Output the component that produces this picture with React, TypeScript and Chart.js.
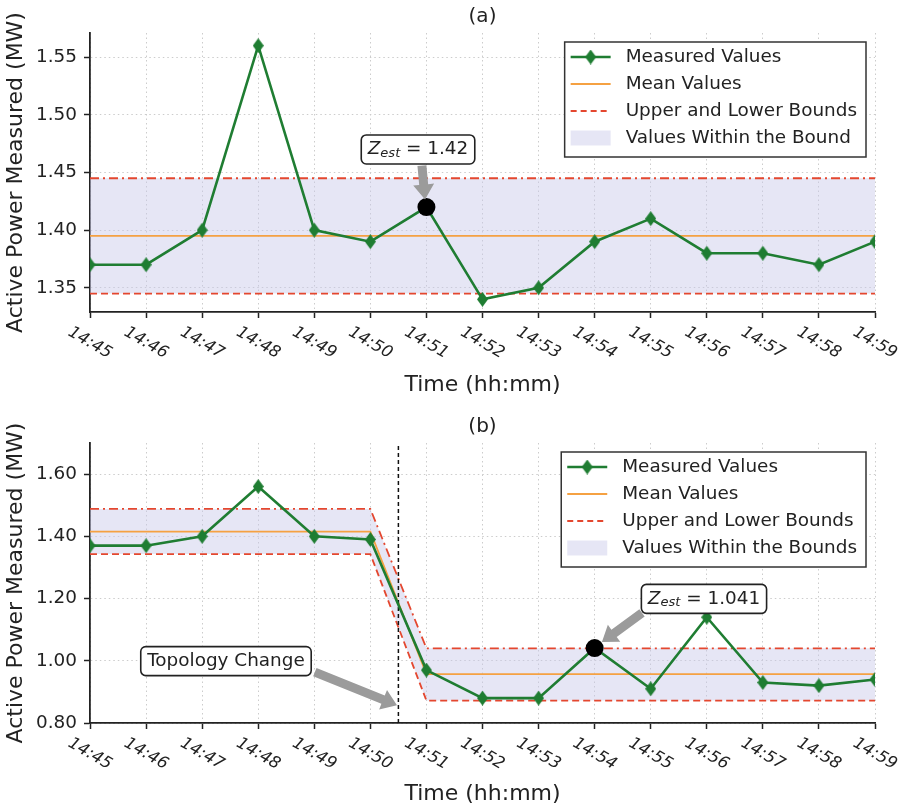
import React, { useEffect, useRef } from "react";
import { Chart, registerables } from "chart.js";

Chart.register(...registerables);

// ---------- data ----------
const timeLabels = ["14:45", "14:46", "14:47", "14:48", "14:49", "14:50", "14:51", "14:52", "14:53", "14:54", "14:55", "14:56", "14:57", "14:58", "14:59"];

// panel (a)
const measuredA = [1.37, 1.37, 1.40, 1.56, 1.40, 1.39, 1.42, 1.34, 1.35, 1.39, 1.41, 1.38, 1.38, 1.37, 1.39];
const meanA = [1.395, 1.395, 1.395, 1.395, 1.395, 1.395, 1.395, 1.395, 1.395, 1.395, 1.395, 1.395, 1.395, 1.395, 1.395];
const upperA = [1.445, 1.445, 1.445, 1.445, 1.445, 1.445, 1.445, 1.445, 1.445, 1.445, 1.445, 1.445, 1.445, 1.445, 1.445];
const lowerA = [1.345, 1.345, 1.345, 1.345, 1.345, 1.345, 1.345, 1.345, 1.345, 1.345, 1.345, 1.345, 1.345, 1.345, 1.345];
const estimateA = [{ x: 6, y: 1.42 }];
const yTicksA = [1.35, 1.40, 1.45, 1.50, 1.55];
const yLimitsA = [1.329, 1.571];
const legendA = ["Measured Values", "Mean Values", "Upper and Lower Bounds", "Values Within the Bound"];

// panel (b)
const measuredB = [1.37, 1.37, 1.40, 1.56, 1.40, 1.39, 0.97, 0.88, 0.88, 1.041, 0.91, 1.14, 0.93, 0.92, 0.94];
const meanB = [1.415, 1.415, 1.415, 1.415, 1.415, 1.415, 0.957, 0.957, 0.957, 0.957, 0.957, 0.957, 0.957, 0.957, 0.957];
const upperB = [1.488, 1.488, 1.488, 1.488, 1.488, 1.488, 1.04, 1.04, 1.04, 1.04, 1.04, 1.04, 1.04, 1.04, 1.04];
const lowerB = [1.343, 1.343, 1.343, 1.343, 1.343, 1.343, 0.872, 0.872, 0.872, 0.872, 0.872, 0.872, 0.872, 0.872, 0.872];
const estimateB = [{ x: 9, y: 1.041 }];
const topologyChangeX = [5.5];
const yTicksB = [0.8, 1.0, 1.2, 1.4, 1.6];
const yLimitsB = [0.8, 1.7];
const legendB = ["Measured Values", "Mean Values", "Upper and Lower Bounds", "Values Within the Bounds"];

// annotations (data coordinates)
const annotationsA = [
  { kind: "zest", text: "1.42", center: [5.85, 1.470], tail: [5.92, 1.456], tip: [5.975, 1.4266] },
];
const annotationsB = [
  { kind: "zest", text: "1.041", center: [10.95, 1.199], tail: [9.845, 1.154], tip: [9.13, 1.06] },
  { kind: "text", text: "Topology Change", center: [2.425, 0.999], tail: [4.01, 0.9635], tip: [5.475, 0.857] },
];

// ---------- styles ----------
const FAMILY = "'DejaVu Sans', sans-serif";
const GREEN = "#1f7d32";
const ORANGE = "#f5a142";
const RED = "#e4472f";
const FILL = "rgba(200,200,232,0.45)";
const GRID = "#cccccc";
const INK = "#222222";
const ARROW = "#9b9b9b";

function diamondCanvas(w: number, h: number, color: string) {
  const c = document.createElement("canvas");
  c.width = w;
  c.height = h;
  const g = c.getContext("2d")!;
  g.fillStyle = color;
  g.beginPath();
  g.moveTo(w / 2, 0);
  g.lineTo(w, h / 2);
  g.lineTo(w / 2, h);
  g.lineTo(0, h / 2);
  g.closePath();
  g.fill();
  return c;
}

function roundRect(ctx: CanvasRenderingContext2D, x: number, y: number, w: number, h: number, r: number) {
  ctx.beginPath();
  ctx.moveTo(x + r, y);
  ctx.lineTo(x + w - r, y);
  ctx.arcTo(x + w, y, x + w, y + r, r);
  ctx.lineTo(x + w, y + h - r);
  ctx.arcTo(x + w, y + h, x + w - r, y + h, r);
  ctx.lineTo(x + r, y + h);
  ctx.arcTo(x, y + h, x, y + h - r, r);
  ctx.lineTo(x, y + r);
  ctx.arcTo(x, y, x + r, y, r);
  ctx.closePath();
}

function drawArrow(ctx: CanvasRenderingContext2D, x1: number, y1: number, x2: number, y2: number) {
  const dx = x2 - x1, dy = y2 - y1;
  const L = Math.hypot(dx, dy);
  const ux = dx / L, uy = dy / L;
  const nx = -uy, ny = ux;
  const sw = 4.5, hw = 10.5, hl = Math.min(15, L * 0.6);
  const bx = x2 - ux * hl, by = y2 - uy * hl;
  ctx.beginPath();
  ctx.moveTo(x1 + nx * sw, y1 + ny * sw);
  ctx.lineTo(bx + nx * sw, by + ny * sw);
  ctx.lineTo(bx + nx * hw, by + ny * hw);
  ctx.lineTo(x2, y2);
  ctx.lineTo(bx - nx * hw, by - ny * hw);
  ctx.lineTo(bx - nx * sw, by - ny * sw);
  ctx.lineTo(x1 - nx * sw, y1 - ny * sw);
  ctx.closePath();
  ctx.fill();
}

function textRuns(kind: string, text: string) {
  if (kind === "zest") {
    return [
      { t: "Z", font: `italic 18.4px ${FAMILY}`, dy: 0 },
      { t: "est", font: `italic 13px ${FAMILY}`, dy: 4 },
      { t: " = " + text, font: `18.4px ${FAMILY}`, dy: 0 },
    ];
  }
  return [{ t: text, font: `18.4px ${FAMILY}`, dy: 0 }];
}

function drawAnnotation(ctx: CanvasRenderingContext2D, xs: any, ys: any, a: any) {
  const tx = xs.getPixelForValue(a.tail[0]), ty = ys.getPixelForValue(a.tail[1]);
  const px = xs.getPixelForValue(a.tip[0]), py = ys.getPixelForValue(a.tip[1]);
  ctx.fillStyle = ARROW;
  drawArrow(ctx, tx, ty, px, py);

  const runs = textRuns(a.kind, a.text);
  let total = 0;
  const widths = runs.map((r) => {
    ctx.font = r.font;
    const w = ctx.measureText(r.t).width;
    total += w;
    return w;
  });
  const cx = xs.getPixelForValue(a.center[0]);
  const cy = ys.getPixelForValue(a.center[1]);
  const padX = 6.5;
  const bw = total + padX * 2;
  const bh = 29;
  roundRect(ctx, cx - bw / 2, cy - bh / 2, bw, bh, 5);
  ctx.fillStyle = "#ffffff";
  ctx.fill();
  ctx.strokeStyle = INK;
  ctx.lineWidth = 1.6;
  ctx.stroke();
  ctx.fillStyle = INK;
  ctx.textBaseline = "middle";
  ctx.textAlign = "left";
  let x = cx - total / 2;
  runs.forEach((r, i) => {
    ctx.font = r.font;
    ctx.fillText(r.t, x, cy + r.dy);
    x += widths[i];
  });
}

function drawLegend(ctx: CanvasRenderingContext2D, area: any, labels: string[], diamond: HTMLCanvasElement) {
  ctx.save();
  ctx.font = `18.4px ${FAMILY}`;
  const maxW = Math.max(...labels.map((l) => ctx.measureText(l).width));
  const w = 6 + 40 + 15 + maxW + 9;
  const h = 115;
  const right = area.right - 9;
  const top = area.top + 9;
  const left = right - w;
  ctx.fillStyle = "#ffffff";
  ctx.fillRect(left, top, w, h);
  ctx.strokeStyle = "#333333";
  ctx.lineWidth = 1.5;
  ctx.strokeRect(left, top, w, h);
  const hx0 = left + 6, hx1 = left + 46;
  labels.forEach((label, i) => {
    const cy = top + 15 + i * 27;
    ctx.setLineDash([]);
    if (i === 0) {
      ctx.strokeStyle = GREEN;
      ctx.lineWidth = 2.6;
      ctx.beginPath();
      ctx.moveTo(hx0, cy);
      ctx.lineTo(hx1, cy);
      ctx.stroke();
      ctx.drawImage(diamond, (hx0 + hx1) / 2 - diamond.width / 2, cy - diamond.height / 2);
    } else if (i === 1) {
      ctx.strokeStyle = ORANGE;
      ctx.lineWidth = 1.8;
      ctx.beginPath();
      ctx.moveTo(hx0, cy);
      ctx.lineTo(hx1, cy);
      ctx.stroke();
    } else if (i === 2) {
      ctx.strokeStyle = RED;
      ctx.lineWidth = 1.8;
      ctx.setLineDash([6, 4]);
      ctx.beginPath();
      ctx.moveTo(hx0, cy);
      ctx.lineTo(hx1, cy);
      ctx.stroke();
      ctx.setLineDash([]);
    } else {
      ctx.fillStyle = FILL;
      ctx.fillRect(hx0, cy - 7.5, hx1 - hx0, 15);
    }
    ctx.fillStyle = INK;
    ctx.font = `18.4px ${FAMILY}`;
    ctx.textAlign = "left";
    ctx.textBaseline = "middle";
    ctx.fillText(label, left + 61, cy);
  });
  ctx.restore();
}

type Panel = {
  title: string;
  measured: number[];
  mean: number[];
  upper: number[];
  lower: number[];
  estimate: { x: number; y: number }[];
  vline?: number[];
  yTicks: number[];
  yLimits: number[];
  legend: string[];
  annotations: any[];
  padTop: number;
  xAxisHeight: number;
};

const panelA: Panel = {
  title: "(a)",
  measured: measuredA,
  mean: meanA,
  upper: upperA,
  lower: lowerA,
  estimate: estimateA,
  yTicks: yTicksA,
  yLimits: yLimitsA,
  legend: legendA,
  annotations: annotationsA,
  padTop: 33,
  xAxisHeight: 88,
};

const panelB: Panel = {
  title: "(b)",
  measured: measuredB,
  mean: meanB,
  upper: upperB,
  lower: lowerB,
  estimate: estimateB,
  vline: topologyChangeX,
  yTicks: yTicksB,
  yLimits: yLimitsB,
  legend: legendB,
  annotations: annotationsB,
  padTop: 43,
  xAxisHeight: 86,
};

function buildChart(canvas: HTMLCanvasElement, p: Panel) {
  const diamond = diamondCanvas(11, 15, GREEN);
  const pts = (arr: number[]) => arr.map((v, i) => ({ x: i, y: v }));

  const datasets: any[] = [
    { label: "lower", data: pts(p.lower), borderColor: RED, borderWidth: 1.8, borderDash: [7, 4], pointRadius: 0, fill: false, order: 5 },
    { label: "upper", data: pts(p.upper), borderColor: RED, borderWidth: 1.8, borderDash: [9, 4, 2, 4], pointRadius: 0, fill: "-1", backgroundColor: FILL, order: 4 },
    { label: "mean", data: pts(p.mean), borderColor: ORANGE, borderWidth: 1.8, pointRadius: 0, fill: false, order: 3 },
    { label: "measured", data: pts(p.measured), borderColor: GREEN, borderWidth: 2.6, pointStyle: diamond, pointRadius: 6, pointHoverRadius: 6, fill: false, order: 1 },
    { label: "estimate", data: p.estimate, showLine: false, pointStyle: "circle", pointRadius: 9, pointHoverRadius: 9, pointBorderWidth: 0, backgroundColor: "#000", borderColor: "#000", order: 0 },
  ];
  if (p.vline) {
    p.vline.forEach((xv) => {
      datasets.push({
        label: "topology",
        data: [{ x: xv, y: p.yLimits[0] }, { x: xv, y: p.yLimits[1] }],
        borderColor: "#111",
        borderWidth: 1.5,
        borderDash: [4, 3],
        pointRadius: 0,
        fill: false,
        order: 2,
      });
    });
  }

  const overlay = {
    id: "overlay",
    afterDraw(chart: any) {
      const { ctx, chartArea: area } = chart;
      const xs = chart.scales.x, ys = chart.scales.y;
      ctx.save();
      // rotated x tick labels
      ctx.font = `italic 16.5px ${FAMILY}`;
      ctx.fillStyle = INK;
      ctx.textAlign = "center";
      ctx.textBaseline = "middle";
      timeLabels.forEach((t, i) => {
        const x = xs.getPixelForValue(i);
        ctx.save();
        ctx.translate(x, area.bottom + 31);
        ctx.rotate(Math.PI / 6);
        ctx.fillText(t, 0, 0);
        ctx.restore();
      });
      // panel title
      ctx.font = `20px ${FAMILY}`;
      ctx.fillText(p.title, (area.left + area.right) / 2, area.top - 16);
      // annotations
      p.annotations.forEach((a) => drawAnnotation(ctx, xs, ys, a));
      ctx.restore();
      drawLegend(ctx, area, p.legend, diamond);
    },
  };

  const gridOpts = { color: GRID, lineWidth: 1, drawTicks: true, tickLength: 6, tickColor: INK, tickWidth: 1.5 };
  const borderOpts = { display: true, color: INK, width: 1.8, dash: [1.5, 3] };

  return new Chart(canvas, {
    type: "line",
    data: { datasets },
    options: {
      animation: false,
      responsive: false,
      devicePixelRatio: 1,
      events: [],
      layout: { padding: { left: 0, right: 28, top: p.padTop, bottom: 0 } },
      plugins: {
        legend: { display: false },
        title: { display: false },
        tooltip: { enabled: false },
        filler: { drawTime: "beforeDatasetsDraw" },
      } as any,
      scales: {
        x: {
          type: "linear",
          min: 0,
          max: timeLabels.length - 1,
          afterBuildTicks: (s: any) => {
            s.ticks = timeLabels.map((_, i) => ({ value: i }));
          },
          afterFit: (s: any) => {
            s.height = p.xAxisHeight;
          },
          ticks: { display: false },
          grid: gridOpts,
          border: borderOpts,
          title: {
            display: true,
            text: "Time (hh:mm)",
            color: INK,
            font: { family: FAMILY, size: 22, lineHeight: 1 },
            padding: { top: 0, bottom: 4 },
          },
        },
        y: {
          type: "linear",
          min: p.yLimits[0],
          max: p.yLimits[1],
          afterBuildTicks: (s: any) => {
            s.ticks = p.yTicks.map((v) => ({ value: v }));
          },
          afterFit: (s: any) => {
            s.width = 90;
          },
          ticks: {
            color: INK,
            padding: 7,
            font: { family: FAMILY, size: 18.4 },
            callback: (v: any) => Number(v).toFixed(2),
          },
          grid: gridOpts,
          border: borderOpts,
          title: {
            display: true,
            text: "Active Power Measured (MW)",
            color: INK,
            font: { family: FAMILY, size: 22 },
            padding: { top: 3, bottom: 0 },
          },
        },
      } as any,
    },
    plugins: [overlay],
  } as any);
}

export default function App() {
  const refA = useRef<HTMLCanvasElement>(null);
  const refB = useRef<HTMLCanvasElement>(null);
  useEffect(() => {
    const a = buildChart(refA.current!, panelA);
    const b = buildChart(refB.current!, panelB);
    return () => {
      a.destroy();
      b.destroy();
    };
  }, []);
  return (
    <div style={{ position: "absolute", left: 0, top: 0, width: 903, height: 809, background: "#ffffff" }}>
      <canvas ref={refA} width={903} height={400} style={{ position: "absolute", left: 0, top: 0, display: "block" }} />
      <canvas ref={refB} width={903} height={409} style={{ position: "absolute", left: 0, top: 400, display: "block" }} />
    </div>
  );
}
